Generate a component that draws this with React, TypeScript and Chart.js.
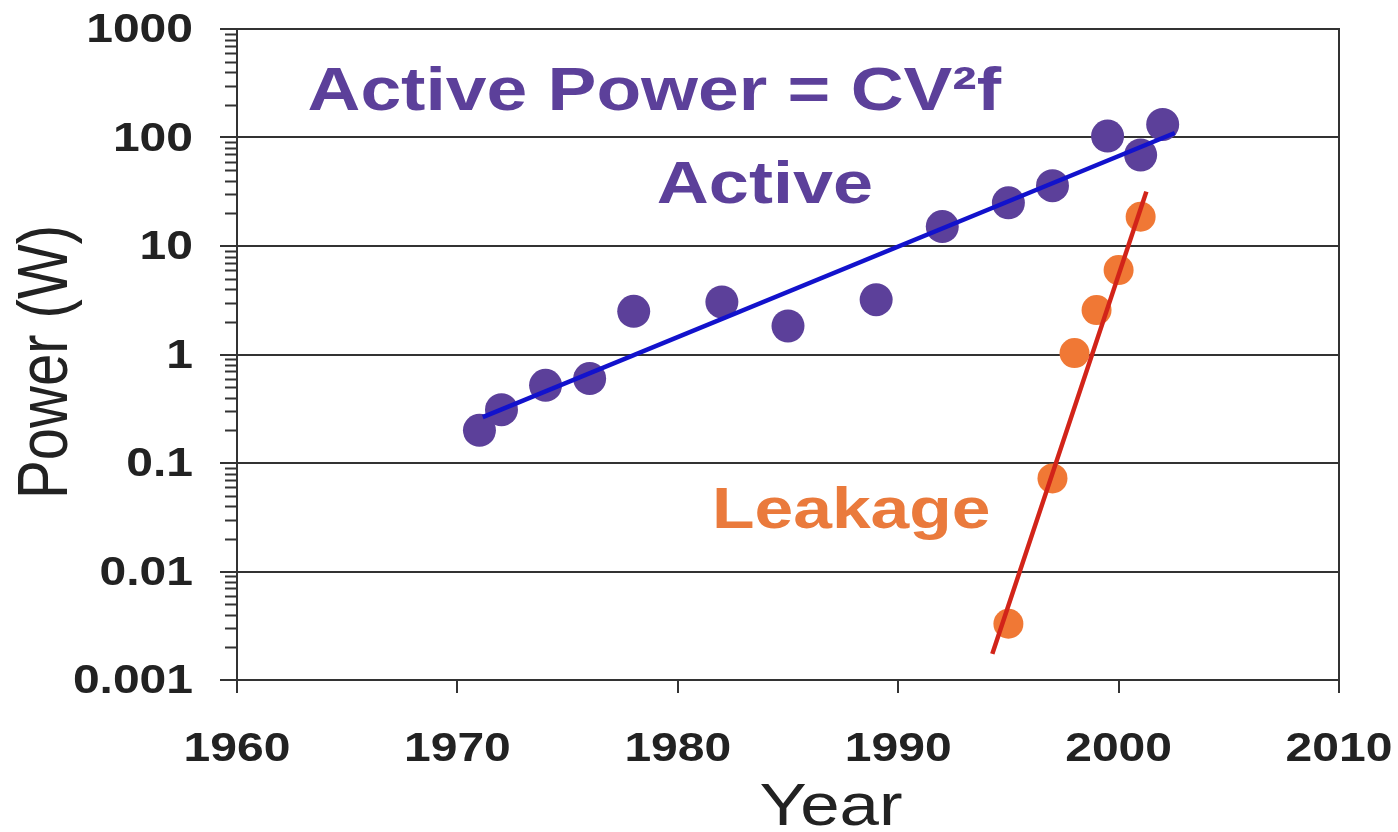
import { useEffect, useRef } from 'react';
import { Chart, registerables } from 'chart.js';

Chart.register(...registerables);

// ---- data ----
const activeYears = [1971, 1972, 1974, 1976, 1978, 1982, 1985, 1989, 1992, 1995, 1997, 1999.5, 2001, 2002];
const activeWatts = [0.2, 0.31, 0.52, 0.6, 2.5, 3.05, 1.83, 3.2, 15.1, 25, 36, 103, 69, 132];

const leakYears = [1995, 1997, 1998, 1999, 2000, 2001];
const leakWatts = [0.0033, 0.072, 1.03, 2.57, 6.0, 18.6];

const activeFitYears = [1971.15, 2002.55];
const activeFitWatts = [0.265, 110];

const leakFitYears = [1994.27, 2001.26];
const leakFitWatts = [0.00174, 31.7];

const xTickValues = [1960, 1970, 1980, 1990, 2000, 2010];
const xTickLabels = ['1960', '1970', '1980', '1990', '2000', '2010'];
const yTickValues = [0.001, 0.01, 0.1, 1, 10, 100, 1000];
const yTickLabels = ['0.001', '0.01', '0.1', '1', '10', '100', '1000'];

const annotationTexts = ['Active Power = CV\u00B2f', 'Active', 'Leakage'];
const annotationYears = [1963.2, 1979.05, 1981.55];
const annotationWatts = [179, 24.9, 0.0252];

// ---- styles ----
const FONT = '"Liberation Sans", Arial, sans-serif';
const STRETCH = 1.2;
const PURPLE = '#5C409A';
const ORANGE = '#F07835';
const AXIS = '#333333';
const TEXT = '#222222';
const annotationColors = [PURPLE, PURPLE, '#EA7A3C'];
const annotationSizes = [61, 60, 58];

function pts(xs: number[], ys: number[]) {
  return xs.map((x, i) => ({ x, y: ys[i] }));
}

function stretchedText(ctx: CanvasRenderingContext2D, text: string, x: number, y: number, align: CanvasTextAlign, baseline: CanvasTextBaseline) {
  ctx.save();
  ctx.translate(x, y);
  ctx.scale(STRETCH, 1);
  ctx.textAlign = align;
  ctx.textBaseline = baseline;
  ctx.fillText(text, 0, 0);
  ctx.restore();
}

export default function App() {
  const ref = useRef<HTMLCanvasElement>(null);

  useEffect(() => {
    const canvas = ref.current!;
    const overlay = {
      id: 'overlay',
      afterDraw(chart: any) {
        const ctx: CanvasRenderingContext2D = chart.ctx;
        const { left, right, top, bottom } = chart.chartArea;
        const xs = chart.scales.x;
        const ys = chart.scales.y;

        ctx.save();
        // box
        ctx.strokeStyle = AXIS;
        ctx.lineWidth = 2;
        ctx.strokeRect(left, top, right - left, bottom - top);

        // minor log ticks
        ctx.beginPath();
        for (let e = -3; e < 3; e++) {
          const d = Math.pow(10, e);
          for (let m = 2; m <= 9; m++) {
            const py = Math.round(ys.getPixelForValue(m * d)) + 0.5;
            ctx.moveTo(left - 12, py);
            ctx.lineTo(left, py);
          }
        }
        ctx.lineWidth = 2;
        ctx.stroke();

        // tick labels
        ctx.fillStyle = TEXT;
        ctx.font = `bold 40px ${FONT}`;
        xTickValues.forEach((v, i) => {
          stretchedText(ctx, xTickLabels[i], xs.getPixelForValue(v), 761, 'center', 'alphabetic');
        });
        yTickValues.forEach((v, i) => {
          stretchedText(ctx, yTickLabels[i], 193, ys.getPixelForValue(v) + 2, 'right', 'middle');
        });

        // axis titles
        ctx.font = `59px ${FONT}`;
        stretchedText(ctx, 'Year', 831, 825, 'center', 'alphabetic');
        ctx.save();
        ctx.translate(48, 362);
        ctx.rotate(-Math.PI / 2);
        ctx.scale(1, STRETCH);
        ctx.textAlign = 'center';
        ctx.textBaseline = 'middle';
        ctx.font = `58px ${FONT}`;
        ctx.fillText('Power (W)', 0, 0);
        ctx.restore();

        // annotations
        annotationTexts.forEach((t, i) => {
          ctx.font = `bold ${annotationSizes[i]}px ${FONT}`;
          ctx.fillStyle = annotationColors[i];
          stretchedText(ctx, t, xs.getPixelForValue(annotationYears[i]), ys.getPixelForValue(annotationWatts[i]), 'left', 'alphabetic');
        });
        ctx.restore();
      },
    };

    const chart = new Chart(canvas, {
      type: 'scatter',
      data: {
        datasets: [
          {
            type: 'line',
            label: 'Active fit',
            data: pts(activeFitYears, activeFitWatts),
            borderColor: '#1212CC',
            borderWidth: 4.5,
            pointRadius: 0,
            order: 0,
          } as any,
          {
            type: 'line',
            label: 'Leakage fit',
            data: pts(leakFitYears, leakFitWatts),
            borderColor: '#D22419',
            borderWidth: 4.5,
            pointRadius: 0,
            order: 0,
          } as any,
          {
            label: 'Active',
            data: pts(activeYears, activeWatts),
            backgroundColor: PURPLE,
            borderWidth: 0,
            pointRadius: 16.5,
            order: 1,
          },
          {
            label: 'Leakage',
            data: pts(leakYears, leakWatts),
            backgroundColor: ORANGE,
            borderWidth: 0,
            pointRadius: 15,
            order: 1,
          },
        ],
      },
      options: {
        responsive: false,
        animation: false,
        devicePixelRatio: 1,
        layout: { padding: { left: 0, top: 29, right: 59, bottom: 0 } },
        plugins: {
          legend: { display: false },
          tooltip: { enabled: false },
        },
        scales: {
          x: {
            type: 'linear',
            min: 1960,
            max: 2010,
            afterBuildTicks: (s: any) => {
              s.ticks = xTickValues.map((v) => ({ value: v }));
            },
            ticks: { display: false },
            grid: { drawOnChartArea: false, drawTicks: true, tickLength: 13, color: AXIS, lineWidth: 2 },
            border: { display: true, color: AXIS, width: 2 },
            afterFit: (s: any) => {
              s.height = 152;
            },
          },
          y: {
            type: 'logarithmic',
            min: 0.001,
            max: 1000,
            afterBuildTicks: (s: any) => {
              s.ticks = yTickValues.map((v) => ({ value: v }));
            },
            ticks: { display: false },
            grid: { drawTicks: true, tickLength: 17, color: AXIS, lineWidth: 2 },
            border: { display: true, color: AXIS, width: 2 },
            afterFit: (s: any) => {
              s.width = 237;
            },
          },
        },
      } as any,
      plugins: [overlay],
    });

    return () => chart.destroy();
  }, []);

  return (
    <div style={{ position: 'fixed', left: 0, top: 0, width: 1398, height: 832, background: '#ffffff' }}>
      <canvas ref={ref} width={1398} height={832} />
    </div>
  );
}
